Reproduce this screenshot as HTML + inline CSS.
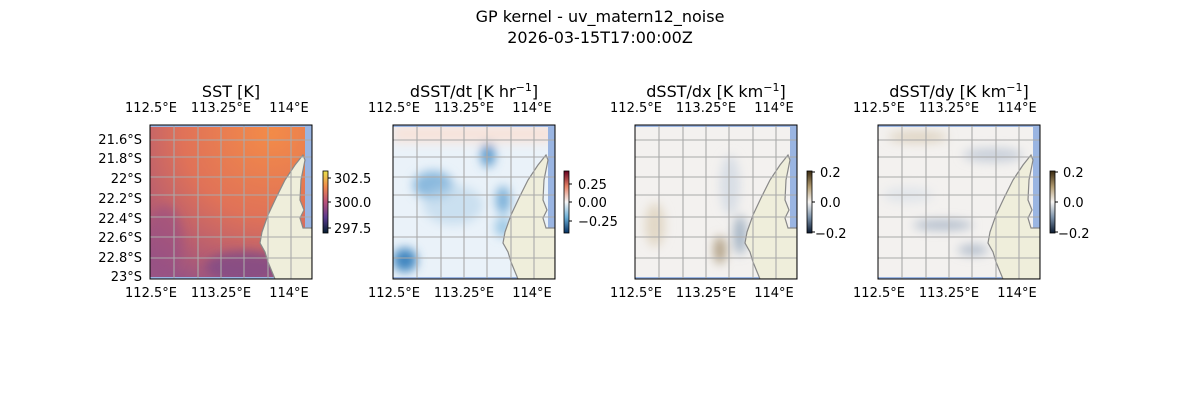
<!DOCTYPE html>
<html><head><meta charset="utf-8"><style>
html,body{margin:0;padding:0;background:#fff}
svg{display:block}
text{font-family:"DejaVu Sans","Liberation Sans",sans-serif;fill:#000}
</style></head><body>
<svg width="1200" height="400" viewBox="0 0 1200 400" xmlns="http://www.w3.org/2000/svg">
<defs>
<clipPath id="box"><rect width="162" height="154"/></clipPath>
<filter id="blur" x="-50%" y="-50%" width="200%" height="200%"><feGaussianBlur stdDeviation="5"/></filter>
<linearGradient id="thermal" x1="0" y1="0" x2="0" y2="1">
<stop offset="0" stop-color="#e9e14c"/><stop offset="0.25" stop-color="#f08a4b"/><stop offset="0.5" stop-color="#b9507a"/><stop offset="0.75" stop-color="#5a3a8e"/><stop offset="1" stop-color="#041d30"/></linearGradient>
<linearGradient id="rdbu" x1="0" y1="0" x2="0" y2="1">
<stop offset="0" stop-color="#67001f"/><stop offset="0.25" stop-color="#e58267"/><stop offset="0.5" stop-color="#f7f7f7"/><stop offset="0.75" stop-color="#6aaed6"/><stop offset="1" stop-color="#053061"/></linearGradient>
<linearGradient id="diff" x1="0" y1="0" x2="0" y2="1">
<stop offset="0" stop-color="#3a2a10"/><stop offset="0.25" stop-color="#b09a70"/><stop offset="0.5" stop-color="#f7f5f3"/><stop offset="0.75" stop-color="#7a90a8"/><stop offset="1" stop-color="#0b1a30"/></linearGradient>
<radialGradient id="sstBg" cx="0.75" cy="0.05" r="1.1">
<stop offset="0" stop-color="#f38b48"/><stop offset="0.5" stop-color="#e07258"/><stop offset="0.8" stop-color="#b85e70"/><stop offset="1" stop-color="#985484"/></radialGradient>
<g id="coast">
<rect x="155" y="0" width="7" height="103" fill="#9ab5e2"/>
<rect x="0" y="0" width="162" height="2" fill="#9ab5e2"/>
<rect x="0" y="152" width="125" height="2" fill="#9ab5e2"/>
<path d="M153,30 L145,40 L135,55 L126,73 L118,90 L112,107 L110,118 L115,127 L118,137 L125,154 L162,154 L162,103 L153,103 L150,93 L154,85 L150,75 L151,55 L155,35 Z" fill="#efeedb" stroke="#888" stroke-width="1.2"/>
</g>
<g id="grid" stroke="#aaa" stroke-width="1.1" fill="none">
<path d="M24,0V154M48,0V154M71,0V154M94,0V154M118,0V154M141,0V154M0,15H162M0,32H162M0,52H162M0,70H162M0,92H162M0,112H162M0,133H162"/>
</g>
<g id="lonlab" font-size="13" text-anchor="middle">
<text x="1" y="-13">112.5°E</text><text x="71" y="-13">113.25°E</text><text x="139" y="-13">114°E</text>
<text x="1" y="172">112.5°E</text><text x="71" y="172">113.25°E</text><text x="139" y="172">114°E</text>
</g>
</defs>

<text x="600" y="22" font-size="16" text-anchor="middle">GP kernel - uv_matern12_noise</text>
<text x="600" y="43" font-size="16" text-anchor="middle">2026-03-15T17:00:00Z</text>

<!-- Panel 1 -->
<g transform="translate(150,125)">
<g clip-path="url(#box)">
<rect width="162" height="154" fill="url(#sstBg)"/>
<g filter="url(#blur)">
<ellipse cx="95" cy="142" rx="40" ry="16" fill="#7e4a88" opacity="0.8"/>
<ellipse cx="15" cy="115" rx="18" ry="35" fill="#9a5084" opacity="0.6"/>
</g>
<use href="#coast"/><use href="#grid"/>
</g>
<rect width="162" height="154" fill="none" stroke="#000" stroke-width="1"/>
<use href="#lonlab"/>
<g font-size="13" text-anchor="end">
<text x="-8" y="19">21.6°S</text><text x="-8" y="38">21.8°S</text><text x="-8" y="58">22°S</text><text x="-8" y="78">22.2°S</text><text x="-8" y="98">22.4°S</text><text x="-8" y="117">22.6°S</text><text x="-8" y="137">22.8°S</text><text x="-8" y="156">23°S</text>
</g>
</g>
<text x="231" y="97" font-size="16" text-anchor="middle">SST [K]</text>
<rect x="323" y="171" width="5" height="62" fill="url(#thermal)" stroke="#000" stroke-width="0.8"/>
<g stroke="#000"><path d="M328,178h3M328,202h3M328,228h3"/></g>
<g font-size="13"><text x="334" y="183">302.5</text><text x="334" y="207">300.0</text><text x="334" y="233">297.5</text></g>

<!-- Panel 2 -->
<g transform="translate(393,125)">
<g clip-path="url(#box)">
<rect width="162" height="154" fill="#eaf2f9"/>
<g filter="url(#blur)">
<rect x="0" y="0" width="162" height="18" fill="#f8e2d8" opacity="0.9"/>
<ellipse cx="40" cy="60" rx="20" ry="14" fill="#7fb3da" opacity="0.9"/>
<ellipse cx="95" cy="30" rx="7" ry="12" fill="#4a8fc6" opacity="0.9"/>
<ellipse cx="110" cy="75" rx="7" ry="14" fill="#6aa6d4" opacity="0.9"/>
<ellipse cx="12" cy="135" rx="12" ry="12" fill="#3f86c0"/>
<ellipse cx="60" cy="80" rx="30" ry="20" fill="#b6d4ea" opacity="0.6"/>
<ellipse cx="110" cy="102" rx="8" ry="10" fill="#88bde0" opacity="0.8"/>
</g>
<use href="#coast"/><use href="#grid"/>
</g>
<rect width="162" height="154" fill="none" stroke="#000" stroke-width="1"/>
<use href="#lonlab"/>
</g>
<text x="474" y="97" font-size="16" text-anchor="middle">dSST/dt [K hr<tspan font-size="11" dy="-6">−1</tspan><tspan dy="6">]</tspan></text>
<rect x="564" y="171" width="5" height="62" fill="url(#rdbu)" stroke="#000" stroke-width="0.8"/>
<g stroke="#000"><path d="M569,184h3M569,202h3M569,221h3"/></g>
<g font-size="13"><text x="578" y="189">0.25</text><text x="578" y="207">0.00</text><text x="578" y="226">−0.25</text></g>

<!-- Panel 3 -->
<g transform="translate(635,125)">
<g clip-path="url(#box)">
<rect width="162" height="154" fill="#f3f1ef"/>
<g filter="url(#blur)">
<ellipse cx="20" cy="100" rx="10" ry="22" fill="#e0d5c2" opacity="0.9"/>
<ellipse cx="85" cy="125" rx="6" ry="14" fill="#a89678" opacity="0.9"/>
<ellipse cx="105" cy="110" rx="6" ry="20" fill="#8ca0b6" opacity="0.8"/>
<ellipse cx="95" cy="60" rx="10" ry="30" fill="#d5dbe4" opacity="0.9"/>
</g>
<use href="#coast"/><use href="#grid"/>
</g>
<rect width="162" height="154" fill="none" stroke="#000" stroke-width="1"/>
<use href="#lonlab"/>
</g>
<text x="716" y="97" font-size="16" text-anchor="middle">dSST/dx [K km<tspan font-size="11" dy="-6">−1</tspan><tspan dy="6">]</tspan></text>
<rect x="807" y="171" width="5" height="62" fill="url(#diff)" stroke="#000" stroke-width="0.8"/>
<g stroke="#000"><path d="M812,172h3M812,202h3M812,232h3"/></g>
<g font-size="13"><text x="820" y="177">0.2</text><text x="820" y="207">0.0</text><text x="815" y="238">−0.2</text></g>

<!-- Panel 4 -->
<g transform="translate(878,125)">
<g clip-path="url(#box)">
<rect width="162" height="154" fill="#f3f1ef"/>
<g filter="url(#blur)">
<ellipse cx="40" cy="12" rx="30" ry="6" fill="#ddd2bf" opacity="0.9"/>
<ellipse cx="115" cy="30" rx="30" ry="7" fill="#c4ccd8" opacity="0.9"/>
<ellipse cx="65" cy="100" rx="30" ry="5" fill="#a8b6c6" opacity="0.9"/>
<ellipse cx="95" cy="125" rx="15" ry="5" fill="#a8b6c6" opacity="0.9"/>
<ellipse cx="30" cy="70" rx="25" ry="8" fill="#e0e4ea" opacity="0.9"/>
</g>
<use href="#coast"/><use href="#grid"/>
</g>
<rect width="162" height="154" fill="none" stroke="#000" stroke-width="1"/>
<use href="#lonlab"/>
</g>
<text x="959" y="97" font-size="16" text-anchor="middle">dSST/dy [K km<tspan font-size="11" dy="-6">−1</tspan><tspan dy="6">]</tspan></text>
<rect x="1050" y="171" width="5" height="62" fill="url(#diff)" stroke="#000" stroke-width="0.8"/>
<g stroke="#000"><path d="M1055,172h3M1055,202h3M1055,232h3"/></g>
<g font-size="13"><text x="1063" y="177">0.2</text><text x="1063" y="207">0.0</text><text x="1058" y="238">−0.2</text></g>
</svg>
</body></html>
